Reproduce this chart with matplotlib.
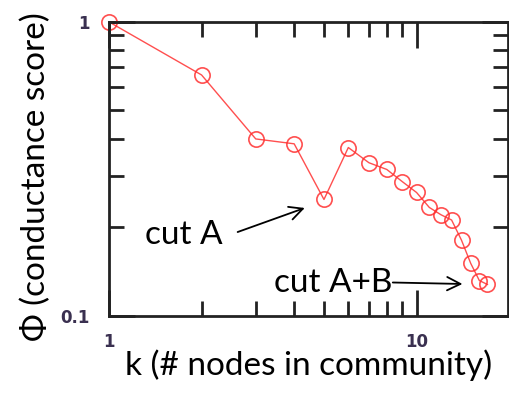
import matplotlib
matplotlib.use("Agg")
import matplotlib.pyplot as plt
from matplotlib.ticker import LogLocator, NullFormatter, FixedLocator, FixedFormatter

# community size k and conductance score phi
k = [1, 2, 3, 4, 5, 6, 7, 8, 9, 10, 11, 12, 13, 14, 15, 16, 17]
phi = [1.0, 0.66, 0.40, 0.385, 0.249, 0.374, 0.332, 0.315, 0.286, 0.263,
       0.234, 0.221, 0.212, 0.181, 0.151, 0.132, 0.128]

x_ticks = [1, 10]
x_labels = ["1", "10"]
y_ticks = [0.1, 1]
y_labels = ["0.1", "1"]

fig = plt.figure(figsize=(5.1, 3.98), dpi=100)
ax = fig.add_axes([0.2137, 0.206, 0.782, 0.739])

ax.plot(k, phi, color="#ff3030", lw=1.0, marker="o", ms=11, mfc="none",
        mec="#ff3030", mew=1.2, alpha=0.85, clip_on=False)

ax.set_xscale("log")
ax.set_yscale("log")
ax.set_xlim(1, 19.8)
ax.set_ylim(0.1, 1)

ax.xaxis.set_major_locator(FixedLocator(x_ticks))
ax.xaxis.set_major_formatter(FixedFormatter(x_labels))
ax.yaxis.set_major_locator(FixedLocator(y_ticks))
ax.yaxis.set_major_formatter(FixedFormatter(y_labels))
ax.xaxis.set_minor_locator(LogLocator(base=10, subs=range(2, 10)))
ax.yaxis.set_minor_locator(LogLocator(base=10, subs=range(2, 10)))
ax.xaxis.set_minor_formatter(NullFormatter())
ax.yaxis.set_minor_formatter(NullFormatter())

ax.tick_params(which="both", direction="in", top=True, right=True,
               width=2, color="#222222", labelsize=12, labelcolor="#3a3050")
ax.tick_params(which="major", length=19)
ax.tick_params(which="minor", length=11)
ax.tick_params(axis="x", which="major", pad=12)
ax.tick_params(axis="y", which="major", pad=14)
for lbl in ax.get_xticklabels() + ax.get_yticklabels():
    lbl.set_fontweight("bold")
for s in ax.spines.values():
    s.set_linewidth(2)
    s.set_color("#222222")

font = "Lato"
fs = 24
ax.set_xlabel("k (# nodes in community)", fontsize=fs, family=font)
ax.set_ylabel("\u03a6 (conductance score)", fontsize=fs, family=font)
ax.xaxis.set_label_coords(0.5, -0.115)
ax.yaxis.set_label_coords(-0.145, 0.475)

# annotation text and arrows
ax.text(1.75, 0.1886, "cut A", fontsize=fs, family=font, va="center", ha="center")
ax.annotate("", xy=(4.33, 0.233), xytext=(2.62, 0.193),
            arrowprops=dict(arrowstyle="->", lw=1.3, color="black",
                            mutation_scale=24, shrinkA=0, shrinkB=0))
ax.text(8.37, 0.1294, "cut A+B", fontsize=fs, family=font, va="center", ha="right")
ax.annotate("", xy=(14.1, 0.1285), xytext=(8.37, 0.1300),
            arrowprops=dict(arrowstyle="->", lw=1.3, color="black",
                            mutation_scale=24, shrinkA=0, shrinkB=0))

fig.savefig("out.png", dpi=100)
